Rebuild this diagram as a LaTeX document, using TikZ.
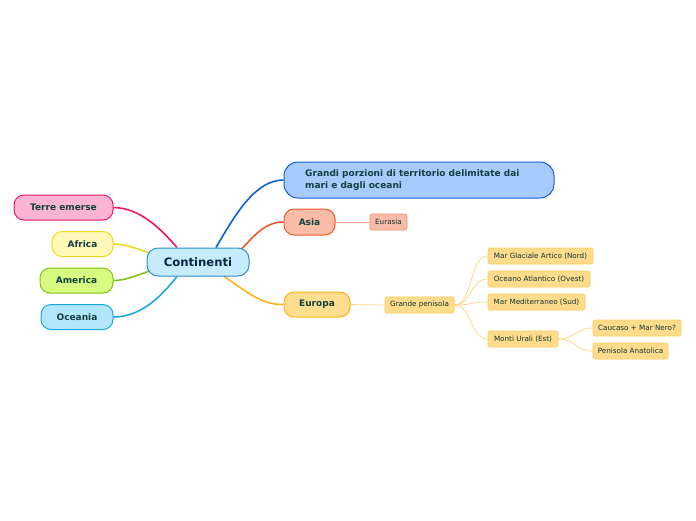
\documentclass[tikz,border=0pt]{standalone}
\usepackage{fontspec}
\setmainfont{DejaVu Sans}
\usetikzlibrary{backgrounds,calc}
\definecolor{txt}{HTML}{12403F}
\definecolor{ctxt}{HTML}{0B2545}
\definecolor{contF}{HTML}{C6EBFC}\definecolor{contD}{HTML}{2F8BCB}
\definecolor{terF}{HTML}{FBB4D3}\definecolor{terD}{HTML}{EE166B}
\definecolor{afrF}{HTML}{FEF9B8}\definecolor{afrD}{HTML}{EBD91E}
\definecolor{ameF}{HTML}{D6FC82}\definecolor{ameD}{HTML}{84C015}
\definecolor{oceF}{HTML}{B2E6FB}\definecolor{oceD}{HTML}{1CA7E3}
\definecolor{graF}{HTML}{A8CBFE}\definecolor{graD}{HTML}{0F5FD4}
\definecolor{asiF}{HTML}{F9BCA6}\definecolor{asiD}{HTML}{EF5A2A}
\definecolor{eurasF}{HTML}{F8BBA7}\definecolor{eurasD}{HTML}{F58F6F}
\definecolor{eurF}{HTML}{FEDD8E}\definecolor{eurD}{HTML}{FBB316}
\definecolor{subF}{HTML}{FEDC8C}\definecolor{subD}{HTML}{FBCB5E}
\definecolor{subL}{HTML}{FDD67C}
\definecolor{asL}{HTML}{F8AA90}
\tikzset{
  x=1pt,y=1pt,
  mainbox/.style={draw,line width=1pt,rounded corners=10pt,inner sep=0pt,text=txt,
     font=\fontsize{9}{11}\selectfont\bfseries},
  subbox/.style={draw,line width=0.6pt,rounded corners=2pt,inner sep=0pt,text=txt!80!black,
     font=\fontsize{7.2}{8}\selectfont, fill=subF, draw=subD},
  mainline/.style={line width=1.6pt},
  subline/.style={line width=0.7pt},
}
\begin{document}
\begin{tikzpicture}
\useasboundingbox (0,0) rectangle (696,-520);
% central
\node[draw=contD,fill=contF,line width=1pt,rounded corners=11pt,minimum width=102pt,minimum height=28pt,inner sep=0pt,text=ctxt,font=\fontsize{11.6}{13}\selectfont\bfseries] (cont) at (198,-262) {Continenti};
% left
\node[mainbox,fill=terF,draw=terD,minimum width=99pt,minimum height=25pt] (ter) at (63.5,-207.5) {Terre emerse};
\node[mainbox,fill=afrF,draw=afrD,minimum width=61pt,minimum height=25pt] (afr) at (82.5,-244) {Africa};
\node[mainbox,fill=ameF,draw=ameD,minimum width=73pt,minimum height=25pt] (ame) at (76.5,-280.5) {America};
\node[mainbox,fill=oceF,draw=oceD,minimum width=72pt,minimum height=25pt] (oce) at (77,-317) {Oceania};
% right
\node[mainbox,fill=graF,draw=graD,minimum width=270pt,minimum height=36pt,rounded corners=14pt] (gra) at (419,-180) {};
\node[anchor=west,inner sep=0pt,text=txt,font=\fontsize{9}{11.5}\selectfont\bfseries,align=left] (gratext) at (305,-180) {Grandi porzioni di territorio delimitate dai\\mari e dagli oceani};
\node[mainbox,fill=asiF,draw=asiD,minimum width=51pt,minimum height=26pt] (asi) at (309.5,-222) {Asia};
\node[mainbox,fill=eurF,draw=eurD,minimum width=66pt,minimum height=25pt] (eur) at (317,-304.5) {Europa};
% sub nodes
\node[subbox,fill=eurasF,draw=eurasD,minimum width=37pt,minimum height=16pt] (euras) at (388.5,-222) {Eurasia};
\node[subbox,minimum width=69pt,minimum height=16pt] (gp) at (419.5,-305) {Grande penisola};
\node[subbox,minimum width=105pt,minimum height=16pt] (mga) at (540.5,-256) {Mar Glaciale Artico (Nord)};
\node[subbox,minimum width=102pt,minimum height=16pt] (oat) at (539,-279) {Oceano Atlantico (Ovest)};
\node[subbox,minimum width=97pt,minimum height=16pt] (mme) at (536.5,-302) {Mar Mediterraneo (Sud)};
\node[subbox,minimum width=70pt,minimum height=16pt] (mur) at (523,-339) {Monti Urali (Est)};
\node[subbox,minimum width=88pt,minimum height=16pt] (cau) at (637,-328) {Caucaso + Mar Nero?};
\node[subbox,minimum width=75pt,minimum height=16pt] (pan) at (630.5,-351) {Penisola Anatolica};
\begin{pgfonlayer}{background}
\draw[mainline,terD] ($(cont.north)+(-21,0)$) .. controls (160,-228) and (140,-208) .. (ter.east);
\draw[mainline,afrD] ($(cont.west)+(3,9)$) .. controls (135,-248) and (125,-244) .. (afr.east);
\draw[mainline,ameD] ($(cont.west)+(3,-9)$) .. controls (135,-276) and (125,-280.5) .. (ame.east);
\draw[mainline,oceD] ($(cont.south)+(-21,0)$) .. controls (160,-298) and (140,-317) .. (oce.east);
\draw[mainline,graD] ($(cont.north)+(18,0)$) .. controls (235,-215) and (255,-180) .. (gra.west);
\draw[mainline,asiD] ($(cont.north)+(43,-2)$) .. controls (255,-235) and (265,-222) .. (asi.west);
\draw[mainline,eurD] ($(cont.south)+(26,0)$) .. controls (245,-290) and (260,-305) .. (eur.west);
\draw[subline,asL] (asi.east) -- (euras.west);
\draw[subline,subL] (eur.east) -- (gp.west);
\foreach \t in {mga,oat,mme,mur}
  \draw[subline,subL] (gp.east) .. controls ($(gp.east)+(18,0)$) and ($(\t.west)+(-18,0)$) .. (\t.west);
\foreach \t in {cau,pan}
  \draw[subline,subL] (mur.east) .. controls ($(mur.east)+(18,0)$) and ($(\t.west)+(-18,0)$) .. (\t.west);
\end{pgfonlayer}
\end{tikzpicture}
\end{document}
